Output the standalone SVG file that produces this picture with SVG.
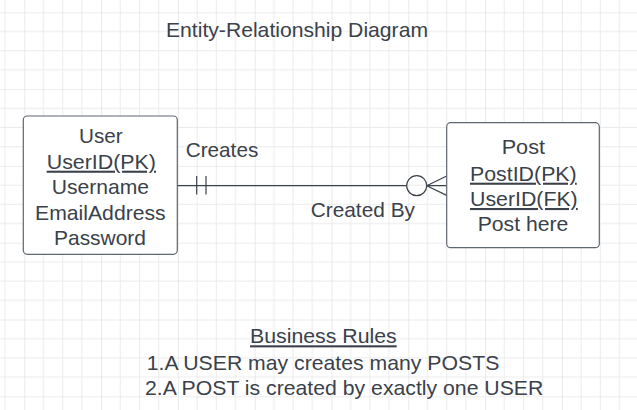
<svg xmlns="http://www.w3.org/2000/svg" width="637" height="410" viewBox="0 0 637 410">
<defs>
<pattern id="grid" x="24.3" y="12.3" width="76.8" height="76.8" patternUnits="userSpaceOnUse">
<path d="M19.2 0V76.8M38.4 0V76.8M57.6 0V76.8M0 19.2H76.8M0 38.4H76.8M0 57.6H76.8" stroke="#ebebeb" stroke-width="1" fill="none"/>
<path d="M0 0V76.8M0 0H76.8" stroke="#dcdcdc" stroke-width="1.2" fill="none"/>
</pattern>
<style>
text{font-family:"Liberation Sans",Arial,sans-serif;fill:#3a414a;font-size:20.8px}
.c{text-anchor:middle}
.u{text-decoration:underline}
.box{fill:#fff;stroke:#5e6670;stroke-width:1.2}
.ln{stroke:#3a414a;stroke-width:1.2;fill:none}
</style>
</defs>
<rect width="637" height="410" fill="#fff"/>
<rect width="637" height="410" fill="url(#grid)"/>
<text x="166" y="36.5" font-size="20" textLength="262" lengthAdjust="spacingAndGlyphs">Entity-Relationship Diagram</text>
<g id="connectors">
<path class="ln" d="M177.3 185.7H406.7"/>
<path class="ln" d="M196.7 176V194.5M206 176V194.5"/>
<circle class="ln" cx="416.7" cy="185.7" r="10" fill="#fff"/>
<path class="ln" d="M426.7 185.7H446.7M426.7 185.7L446.7 176M426.7 185.7L446.7 195.4"/>
<text x="185.7" y="157.3" textLength="72.6" lengthAdjust="spacingAndGlyphs">Creates</text>
<text x="310.7" y="216.7" textLength="104.3" lengthAdjust="spacingAndGlyphs">Created By</text>
</g>
<g id="user">
<rect class="box" x="23.3" y="116" width="154" height="138.3" rx="4"/>
<text x="79" y="142.7" textLength="43.7" lengthAdjust="spacingAndGlyphs">User</text>
<text class="u" x="46.7" y="168.7" textLength="109.3" lengthAdjust="spacingAndGlyphs">UserID(PK)</text>
<text x="51.7" y="194.2" textLength="97.3" lengthAdjust="spacingAndGlyphs">Username</text>
<text x="35" y="219.6" textLength="130.7" lengthAdjust="spacingAndGlyphs">EmailAddress</text>
<text x="54" y="245" textLength="92" lengthAdjust="spacingAndGlyphs">Password</text>
</g>
<g id="post">
<rect class="box" x="446.7" y="122.7" width="152.6" height="125" rx="4"/>
<text x="501.7" y="154.3" textLength="43.3" lengthAdjust="spacingAndGlyphs">Post</text>
<text class="u" x="470" y="180.7" textLength="106.7" lengthAdjust="spacingAndGlyphs">PostID(PK)</text>
<text class="u" x="470" y="206" textLength="107.7" lengthAdjust="spacingAndGlyphs">UserID(FK)</text>
<text x="477.7" y="231.3" textLength="90.7" lengthAdjust="spacingAndGlyphs">Post here</text>
</g>
<g id="rules">
<text class="u" x="250" y="343.3" textLength="146.7" lengthAdjust="spacingAndGlyphs">Business Rules</text>
<text x="146.7" y="370" textLength="352.6" lengthAdjust="spacingAndGlyphs">1.A USER may creates many POSTS</text>
<text x="145" y="395" textLength="398.3" lengthAdjust="spacingAndGlyphs">2.A POST is created by exactly one USER</text>
</g>
</svg>
